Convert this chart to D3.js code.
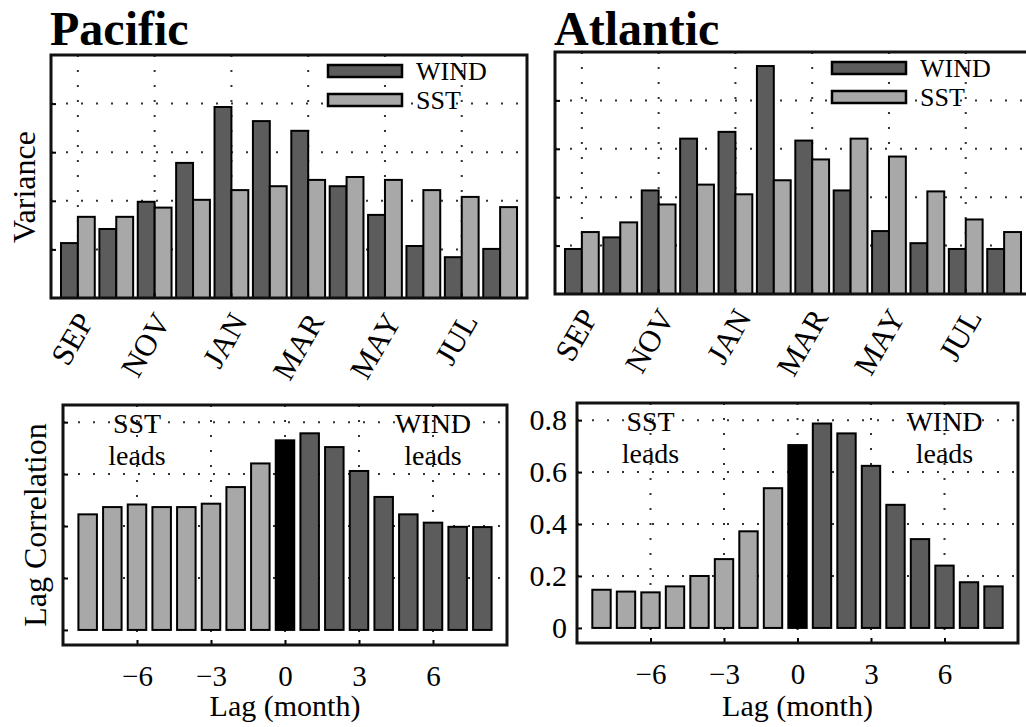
<!DOCTYPE html>
<html>
<head>
<meta charset="utf-8">
<script src="https://cdn.jsdelivr.net/npm/d3@7"></script>
<style>
  body { margin: 0; background: #fff; }
  svg { display: block; font-family: "Liberation Serif", "DejaVu Serif", serif; }
</style>
</head>
<body>
<svg id="chart" width="1026" height="727"></svg>
<script>
// monthly variance (arbitrary units, gridlines at 1..4)
var months = ["SEP", "OCT", "NOV", "DEC", "JAN", "FEB", "MAR", "APR", "MAY", "JUN", "JUL", "AUG"];
var monthTicks = ["SEP", "NOV", "JAN", "MAR", "MAY", "JUL"];
var seriesNames = ["WIND", "SST"];
var pacWind = [1.13, 1.42, 1.98, 2.78, 3.93, 3.64, 3.44, 2.30, 1.71, 1.07, 0.84, 1.01];
var pacSst = [1.67, 1.67, 1.86, 2.02, 2.22, 2.30, 2.43, 2.49, 2.43, 2.22, 2.08, 1.87];
var atlWind = [0.93, 1.17, 2.14, 3.21, 3.35, 4.71, 3.17, 2.14, 1.30, 1.05, 0.93, 0.93];
var atlSst = [1.28, 1.48, 1.85, 2.26, 2.06, 2.35, 2.78, 3.21, 2.84, 2.12, 1.54, 1.28];
var varianceGrid = [1, 2, 3, 4];

// lag correlation, negative lag = SST leads
var lags = [-8, -7, -6, -5, -4, -3, -2, -1, 0, 1, 2, 3, 4, 5, 6, 7, 8];
var pacCorr = [0.445, 0.473, 0.483, 0.473, 0.473, 0.486, 0.55, 0.641, 0.73, 0.757, 0.704, 0.612, 0.512, 0.445, 0.413, 0.397, 0.396];
var atlCorr = [0.147, 0.14, 0.137, 0.16, 0.20, 0.265, 0.372, 0.538, 0.704, 0.787, 0.749, 0.624, 0.474, 0.342, 0.24, 0.176, 0.16];
var lagTicks = [-6, -3, 0, 3, 6];
var corrTicks = [0, 0.2, 0.4, 0.6, 0.8];

var colors = { WIND: "#5c5c5c", SST: "#a8a8a8", zero: "#000000" };

var svg = d3.select("#chart");

function dotted(sel) {
    sel.attr("stroke", "#333").attr("stroke-width", 2).attr("stroke-dasharray", "2,13");
}

function frame(g, f) {
    g.append("rect")
        .attr("x", f.l).attr("y", f.t)
        .attr("width", f.r - f.l).attr("height", f.b - f.t)
        .attr("fill", "none").attr("stroke", "#111").attr("stroke-width", 3);
}

function variancePanel(f, title, wind, sst) {
    var g = svg.append("g");
    var rows = months.map(function (m, i) { return { month: m, WIND: wind[i], SST: sst[i] }; });

    var x = d3.scaleBand().domain(months).range([f.l, f.r]).paddingInner(0.12).paddingOuter(0.26);
    var xs = d3.scaleBand().domain(seriesNames).range([0, x.bandwidth()]);
    var y = d3.scaleLinear().domain([0, 5]).range([f.b, f.t]);

    // grid
    g.selectAll(".hg").data(varianceGrid).enter().append("line")
        .attr("x1", f.l).attr("x2", f.r)
        .attr("y1", function (d) { return y(d); }).attr("y2", function (d) { return y(d); })
        .call(dotted);
    g.selectAll(".vg").data(monthTicks).enter().append("line")
        .attr("x1", function (d) { return x(d) + x.bandwidth() / 2; })
        .attr("x2", function (d) { return x(d) + x.bandwidth() / 2; })
        .attr("y1", f.t).attr("y2", f.b)
        .call(dotted);

    // bars
    var grp = g.selectAll(".grp").data(rows).enter().append("g")
        .attr("transform", function (d) { return "translate(" + x(d.month) + ",0)"; });
    grp.selectAll("rect").data(function (d) {
        return seriesNames.map(function (k) { return { key: k, value: d[k] }; });
    }).enter().append("rect")
        .attr("x", function (d) { return xs(d.key); })
        .attr("width", xs.bandwidth())
        .attr("y", function (d) { return y(d.value); })
        .attr("height", function (d) { return y(0) - y(d.value); })
        .attr("fill", function (d) { return colors[d.key]; })
        .attr("stroke", "#000").attr("stroke-width", 2);

    // axes (inward ticks)
    g.append("g").attr("transform", "translate(0," + f.b + ")")
        .call(d3.axisBottom(x).tickValues(monthTicks).tickSizeInner(-5).tickSizeOuter(0))
        .call(function (a) {
            a.select(".domain").remove();
            a.selectAll("line").attr("stroke", "#000").attr("stroke-width", 2);
            a.selectAll("text")
                .attr("x", 0).attr("y", 0).attr("dy", "0.33em")
                .attr("transform", "translate(8,18) rotate(-60)")
                .style("text-anchor", "end")
                .attr("font-size", 31).attr("font-family", "Liberation Serif").attr("fill", "#000");
        });
    g.append("g").attr("transform", "translate(" + f.l + ",0)")
        .call(d3.axisLeft(y).tickValues(varianceGrid).tickSizeInner(-5).tickSizeOuter(0).tickFormat(""))
        .call(function (a) {
            a.select(".domain").remove();
            a.selectAll("line").attr("stroke", "#000").attr("stroke-width", 2);
        });

    frame(g, f);

    // legend
    var leg = g.selectAll(".leg").data(seriesNames).enter().append("g")
        .attr("transform", function (d, i) { return "translate(" + (f.r - 199) + "," + (f.t + 10 + i * 29) + ")"; });
    leg.append("rect").attr("width", 74).attr("height", 12)
        .attr("fill", function (d) { return colors[d]; })
        .attr("stroke", "#000").attr("stroke-width", 2.5);
    leg.append("text").attr("x", 88).attr("y", 15).attr("font-size", 26).text(function (d) { return d; });

    svg.append("text").attr("x", f.l - 1).attr("y", 45)
        .attr("font-size", 48).attr("font-weight", "bold").text(title);
}

function lagPanel(f, corr, showLabels) {
    var g = svg.append("g");
    var x = d3.scaleLinear().domain([-9, 9]).range([f.l, f.r]);
    var y = d3.scaleLinear().domain([-0.058, 0.866]).range([f.b, f.t]);
    var bw = (x(1) - x(0)) * 0.75;

    g.selectAll(".hg").data(corrTicks.slice(1)).enter().append("line")
        .attr("x1", f.l).attr("x2", f.r)
        .attr("y1", function (d) { return y(d); }).attr("y2", function (d) { return y(d); })
        .call(dotted);
    g.selectAll(".vg").data(lagTicks).enter().append("line")
        .attr("x1", function (d) { return x(d); }).attr("x2", function (d) { return x(d); })
        .attr("y1", f.t).attr("y2", f.b)
        .call(dotted);

    g.selectAll(".bar").data(lags).enter().append("rect")
        .attr("x", function (d) { return x(d) - bw / 2; })
        .attr("width", bw)
        .attr("y", function (d, i) { return y(corr[i]); })
        .attr("height", function (d, i) { return y(0) - y(corr[i]); })
        .attr("fill", function (d) { return d < 0 ? colors.SST : (d === 0 ? colors.zero : colors.WIND); })
        .attr("stroke", "#000").attr("stroke-width", 2);

    g.append("g").attr("transform", "translate(0," + f.b + ")")
        .call(d3.axisBottom(x).tickValues(lagTicks).tickSizeInner(-5).tickSizeOuter(0).tickPadding(20))
        .call(function (a) {
            a.select(".domain").remove();
            a.selectAll("line").attr("stroke", "#000").attr("stroke-width", 2);
            a.selectAll("text").attr("font-size", 29).attr("font-family", "Liberation Serif").attr("fill", "#000");
        });
    g.append("g").attr("transform", "translate(" + f.l + ",0)")
        .call(d3.axisLeft(y).tickValues(corrTicks).tickSizeInner(-5).tickSizeOuter(0).tickPadding(10)
            .tickFormat(showLabels ? d3.format("") : ""))
        .call(function (a) {
            a.select(".domain").remove();
            a.selectAll("line").attr("stroke", "#000").attr("stroke-width", 2);
            a.selectAll("text").attr("font-size", 30).attr("font-family", "Liberation Serif").attr("fill", "#000");
        });

    frame(g, f);

    // lead annotations (two lines each)
    [[-6, "SST"], [6, "WIND"]].forEach(function (p) {
        g.append("text").attr("text-anchor", "middle").attr("font-size", 28)
            .attr("x", x(p[0])).attr("y", f.t + 28).text(p[1]);
        g.append("text").attr("text-anchor", "middle").attr("font-size", 28)
            .attr("x", x(p[0])).attr("y", f.t + 60).text("leads");
    });

    g.append("text").attr("x", x(0)).attr("y", 716).attr("text-anchor", "middle")
        .attr("font-size", 30).text("Lag (month)");
}

variancePanel({ l: 51, t: 55, r: 527, b: 298 }, "Pacific", pacWind, pacSst);
variancePanel({ l: 555, t: 52, r: 1031, b: 294 }, "Atlantic", atlWind, atlSst);
lagPanel({ l: 63, t: 405, r: 507, b: 645 }, pacCorr, false);
lagPanel({ l: 577, t: 403, r: 1018, b: 643 }, atlCorr, true);

svg.append("text").attr("transform", "translate(35,187) rotate(-90)")
    .attr("text-anchor", "middle").attr("font-size", 32).text("Variance");
svg.append("text").attr("transform", "translate(46,525) rotate(-90)")
    .attr("text-anchor", "middle").attr("font-size", 32).text("Lag Correlation");
</script>
</body>
</html>
